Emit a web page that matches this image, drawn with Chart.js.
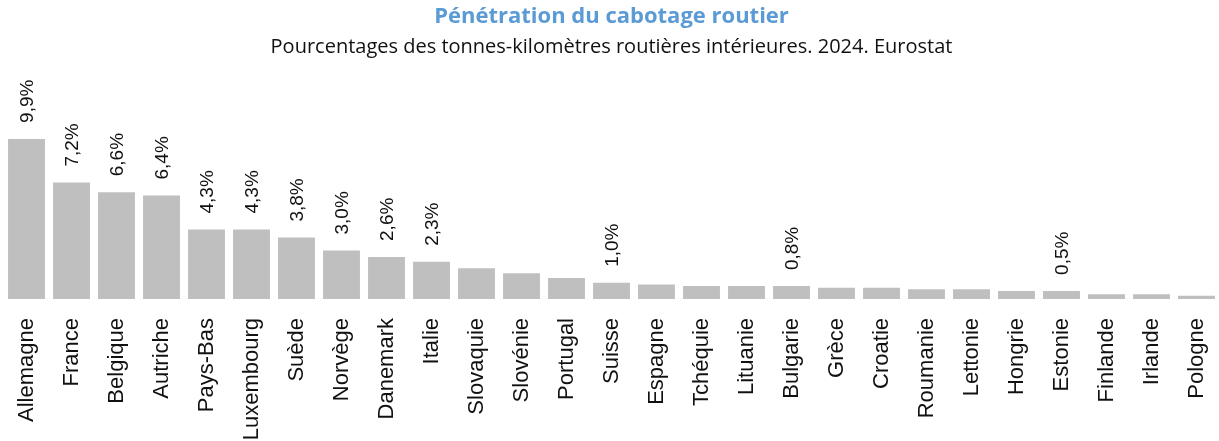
<!DOCTYPE html>
<html>
<head>
<meta charset="utf-8">
<script src="https://cdn.jsdelivr.net/npm/chart.js@4/dist/chart.umd.min.js"></script>
<style>
  html, body { margin: 0; padding: 0; background: #fff; }
  #wrap { width: 1219px; height: 441px; }
</style>
</head>
<body>
<div id="wrap"><canvas id="chart"></canvas></div>
<script>
const countries = [
  "Allemagne", "France", "Belgique", "Autriche", "Pays-Bas", "Luxembourg",
  "Suède", "Norvège", "Danemark", "Italie", "Slovaquie", "Slovénie",
  "Portugal", "Suisse", "Espagne", "Tchéquie", "Lituanie", "Bulgarie",
  "Grèce", "Croatie", "Roumanie", "Lettonie", "Hongrie", "Estonie",
  "Finlande", "Irlande", "Pologne"
];

const cabotage = [
  9.9, 7.2, 6.6, 6.4, 4.3, 4.3,
  3.8, 3.0, 2.6, 2.3, 1.9, 1.6,
  1.3, 1.0, 0.9, 0.8, 0.8, 0.8,
  0.7, 0.7, 0.6, 0.6, 0.5, 0.5,
  0.3, 0.3, 0.2
];

// which bars carry a value label in the original
const labelled = [
  "Allemagne", "France", "Belgique", "Autriche", "Pays-Bas", "Luxembourg",
  "Suède", "Norvège", "Danemark", "Italie", "Suisse", "Bulgarie", "Estonie"
];

const fmt = (v) => v.toFixed(1).replace(".", ",") + "%";

// rotated value labels above the bars
const valueLabels = {
  id: "valueLabels",
  afterDatasetsDraw(chart) {
    const { ctx } = chart;
    const meta = chart.getDatasetMeta(0);
    ctx.save();
    ctx.font = "19px 'Liberation Sans', Arial, sans-serif";
    ctx.fillStyle = "#111";
    ctx.textAlign = "left";
    ctx.textBaseline = "middle";
    meta.data.forEach((bar, i) => {
      if (!labelled.includes(countries[i])) return;
      ctx.save();
      ctx.translate(bar.x, bar.y - 16);
      ctx.rotate(-Math.PI / 2);
      ctx.fillText(fmt(cabotage[i]), 0, 1);
      ctx.restore();
    });
    ctx.restore();
  },
};

new Chart(document.getElementById("chart"), {
  type: "bar",
  data: {
    labels: countries,
    datasets: [
      {
        data: cabotage,
        backgroundColor: "#bfbfbf",
        borderWidth: 0,
        categoryPercentage: 1,
        barPercentage: 0.82,
      },
    ],
  },
  options: {
    responsive: true,
    maintainAspectRatio: false,
    animation: false,
    layout: { padding: { left: 4, right: 0, top: 0, bottom: 0 } },
    plugins: {
      legend: { display: false },
      tooltip: { enabled: false },
      title: {
        display: true,
        text: "Pénétration du cabotage routier",
        color: "#5b9bd5",
        font: { family: "'Open Sans', sans-serif", size: 22, weight: "bold" },
        padding: { top: 4, bottom: 2 },
      },
      subtitle: {
        display: true,
        text: "Pourcentages des tonnes-kilomètres routières intérieures. 2024. Eurostat",
        color: "#111",
        font: { family: "'Open Sans', sans-serif", size: 20 },
        padding: { top: 3, bottom: 10 },
      },
    },
    scales: {
      x: {
        grid: { display: false },
        border: { display: false },
        ticks: {
          color: "#111",
          font: { family: "'Liberation Sans', Arial, sans-serif", size: 22 },
          minRotation: 90,
          maxRotation: 90,
          autoSkip: false,
          padding: 11,
        },
        // keep the axis band like the original: long names run off the bottom
        afterFit: (scale) => {
          scale.height = 142;
          scale.paddingLeft = 0;
          scale.paddingRight = 0;
        },
      },
      y: {
        display: false,
        min: 0,
        max: 14.2,
      },
    },
  },
  plugins: [valueLabels],
});
</script>
</body>
</html>
